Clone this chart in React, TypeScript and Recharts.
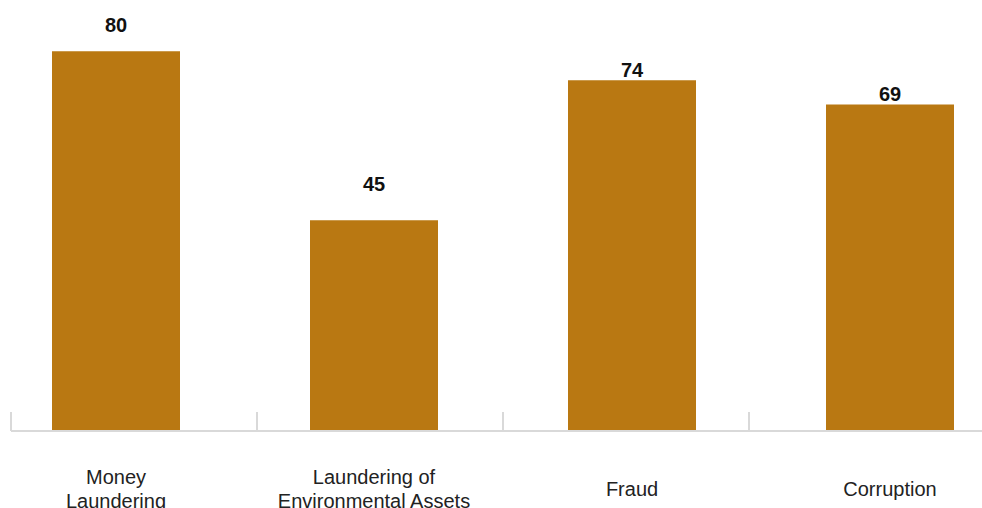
import { BarChart, Bar, XAxis, YAxis, LabelList, ReferenceLine } from 'recharts'

const categories = ['Money\nLaundering', 'Laundering of\nEnvironmental Assets', 'Fraud', 'Corruption']
const values = [80, 45, 74, 69]
const gridSlots = [0, 1, 2, 3]

const BAR_COLOR = '#B97812'
const AXIS_COLOR = '#D9D9D9'
const Y_MIN = 1.4
const Y_MAX = 90.4
const PLOT_H = 430
// tick marks stand 19px above the baseline
const TICK_LEN = (19 * (Y_MAX - Y_MIN)) / PLOT_H
// gap between bar top and value label baseline, per bar
const LABEL_GAP = [19, 29, 3, 3]

const data = categories.map((name, i) => ({ name, value: values[i], slot: i }))

function CategoryTick(props: any) {
  const { x, y, payload } = props
  const lines = String(payload.value).split('\n')
  const first = lines.length > 1 ? y + 53 : y + 65
  return (
    <text x={x} y={first} textAnchor="middle" fill="#222" fontSize={20} fontFamily="'Liberation Sans', Arial, sans-serif">
      {lines.map((l, i) => (
        <tspan key={i} x={x} y={first + i * 24}>{l}</tspan>
      ))}
    </text>
  )
}

function ValueLabel(props: any) {
  const { x, y, width, value, index } = props
  return (
    <text
      x={x + width / 2}
      y={y - LABEL_GAP[index]}
      textAnchor="middle"
      fill="#111"
      fontSize={20}
      fontWeight="bold"
      fontFamily="'Liberation Sans', Arial, sans-serif"
    >
      {value}
    </text>
  )
}

export default function App() {
  return (
    <div style={{ position: 'absolute', left: 0, top: 0, width: 982, height: 508, overflow: 'hidden', background: '#fff' }}>
      <div style={{ marginLeft: -13 }}>
        <BarChart width={1032} height={508} data={data} margin={{ top: 1, right: 0, left: 0, bottom: 0 }}>
          <XAxis
            xAxisId="cat"
            dataKey="name"
            axisLine={false}
            tickLine={false}
            tickSize={0}
            tickMargin={0}
            interval={0}
            height={77}
            tick={<CategoryTick />}
          />
          <XAxis
            xAxisId="frame"
            type="number"
            dataKey="slot"
            domain={[0, 4]}
            padding={{ left: 24, right: 24 }}
            hide
          />
          <YAxis hide domain={[Y_MIN, Y_MAX]} />
          <ReferenceLine
            xAxisId="frame"
            segment={[{ x: 0, y: Y_MIN }, { x: 4, y: Y_MIN }]}
            stroke={AXIS_COLOR}
            strokeWidth={2}
          />
          {gridSlots.map((s) => (
            <ReferenceLine
              key={s}
              xAxisId="frame"
              segment={[{ x: s, y: Y_MIN }, { x: s, y: Y_MIN + TICK_LEN }]}
              stroke={AXIS_COLOR}
              strokeWidth={2}
            />
          ))}
          <Bar xAxisId="cat" dataKey="value" fill={BAR_COLOR} barSize={128} isAnimationActive={false}>
            <LabelList dataKey="value" content={<ValueLabel />} />
          </Bar>
        </BarChart>
      </div>
    </div>
  )
}
